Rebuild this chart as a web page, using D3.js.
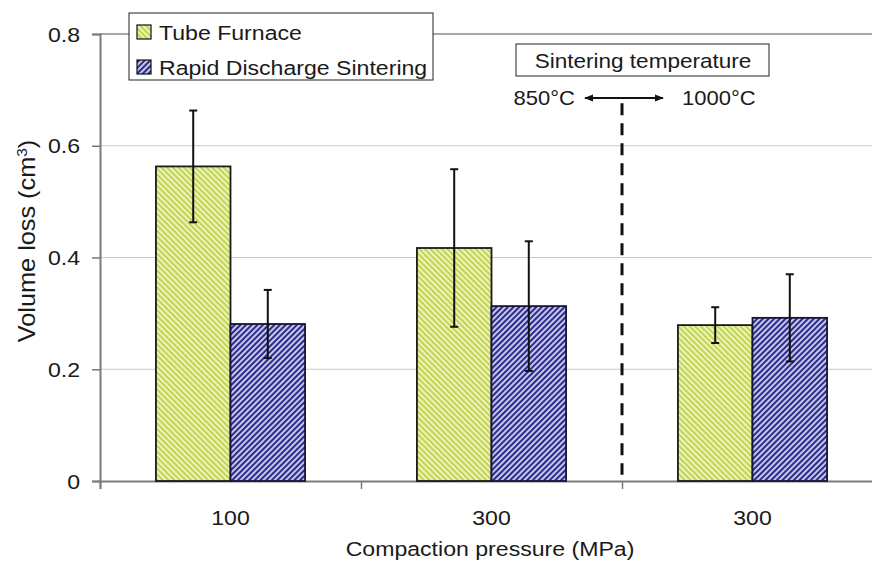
<!DOCTYPE html>
<html>
<head>
<meta charset="utf-8">
<title>Volume loss vs compaction pressure</title>
<script src="https://cdn.jsdelivr.net/npm/d3@7"></script>
<style>
  body { margin: 0; background: #fff; }
  text { font-family: "Liberation Sans", Arial, sans-serif; fill: #1a1a1a; }
</style>
</head>
<body>
<svg id="chart" width="872" height="568"></svg>
<script>
// data
var categories = ["100", "300", "300"];
var seriesNames = ["Tube Furnace", "Rapid Discharge Sintering"];
var tubeFurnace = [0.563, 0.417, 0.279];
var tubeFurnaceErr = [0.100, 0.141, 0.032];
var rapidDischarge = [0.281, 0.313, 0.292];
var rapidDischargeErr = [0.061, 0.116, 0.078];
var yTicks = [0, 0.2, 0.4, 0.6, 0.8];
var yTickLabels = ["0", "0.2", "0.4", "0.6", "0.8"];
var tempLabels = ["850\u00B0C", "1000\u00B0C"];

var svg = d3.select("#chart");
var plotLeft = 100, plotRight = 883, plotTop = 34, plotBottom = 481;
var stretch = 1.1;   // text in the figure is a bit wider than Arial

var x0 = d3.scaleBand().domain(d3.range(categories.length)).range([plotLeft, plotRight]);
var x1 = d3.scaleBand().domain([0, 1]).range([0, x0.bandwidth()]).paddingOuter(0.75);
var y = d3.scaleLinear().domain([0, 0.8]).range([plotBottom, plotTop]);

// hatch patterns
var defs = svg.append("defs");
function hatch(id, bg, fg, angle) {
    var p = defs.append("pattern").attr("id", id)
        .attr("patternUnits", "userSpaceOnUse")
        .attr("width", 4).attr("height", 4)
        .attr("patternTransform", "rotate(" + angle + ")");
    p.append("rect").attr("width", 4).attr("height", 4).attr("fill", bg);
    p.append("rect").attr("width", 2).attr("height", 4).attr("fill", fg);
}
hatch("hatchGreen", "#eef4b6", "#c2d458", -45);
hatch("hatchBlue", "#c6c6ec", "#2c2c8a", 45);
var fills = ["url(#hatchGreen)", "url(#hatchBlue)"];

function label(sel, x, yy, str, size, anchor, rot) {
    return sel.append("text")
        .attr("transform", "translate(" + x + "," + yy + ")" + (rot ? " rotate(" + rot + ")" : "") + " scale(" + stretch + ",1)")
        .attr("text-anchor", anchor || "start")
        .style("font-size", size + "px")
        .text(str);
}

// gridlines
svg.append("g").selectAll("line")
    .data(yTicks.slice(1))
  .enter().append("line")
    .attr("x1", plotLeft).attr("x2", 872)
    .attr("y1", function(d) { return y(d); })
    .attr("y2", function(d) { return y(d); })
    .attr("stroke", function(d) { return d === 0.8 ? "#8a8a8a" : "#c8c8c8"; })
    .attr("stroke-width", function(d) { return d === 0.8 ? 1.5 : 1; });

// axes
var yAxis = d3.axisLeft(y).tickValues(yTicks).tickSize(8).tickFormat("");
var gy = svg.append("g").attr("transform", "translate(" + plotLeft + ",0)").call(yAxis);
gy.select(".domain").attr("stroke", "#7a7a7a").attr("stroke-width", 2);
gy.selectAll(".tick line").attr("stroke", "#7a7a7a").attr("stroke-width", 1.5);
yTicks.forEach(function(t, i) {
    label(svg, 80, y(t) + 7.5, yTickLabels[i], 21, "end");
});

var xAxis = d3.axisBottom(d3.scaleLinear().domain([0, 3]).range([plotLeft, plotRight]))
    .tickValues([0, 1, 2, 3]).tickSize(8).tickFormat("");
var gx = svg.append("g").attr("transform", "translate(0," + plotBottom + ")").call(xAxis);
gx.select(".domain").attr("stroke", "#7a7a7a").attr("stroke-width", 2);
gx.selectAll(".tick line").attr("stroke", "#7a7a7a").attr("stroke-width", 1.5);
categories.forEach(function(c, i) {
    label(svg, x0(i) + x0.bandwidth() / 2, 525, c, 21, "middle");
});

// bars
var groups = svg.append("g").selectAll("g")
    .data(categories.map(function(c, i) {
        return [{s: 0, v: tubeFurnace[i], e: tubeFurnaceErr[i]},
                {s: 1, v: rapidDischarge[i], e: rapidDischargeErr[i]}];
    }))
  .enter().append("g")
    .attr("transform", function(d, i) { return "translate(" + x0(i) + ",0)"; });

groups.selectAll("rect")
    .data(function(d) { return d; })
  .enter().append("rect")
    .attr("x", function(d) { return x1(d.s); })
    .attr("y", function(d) { return y(d.v); })
    .attr("width", x1.bandwidth())
    .attr("height", function(d) { return y(0) - y(d.v); })
    .attr("fill", function(d) { return fills[d.s]; })
    .attr("stroke", function(d) { return d.s ? "#14143c" : "#1a1a1a"; })
    .attr("stroke-width", 1.8);

// error bars
var err = groups.selectAll("g.err")
    .data(function(d) { return d; })
  .enter().append("g").attr("class", "err")
    .attr("stroke", "#111").attr("stroke-width", 2);
err.append("line")
    .attr("x1", function(d) { return x1(d.s) + x1.bandwidth() / 2; })
    .attr("x2", function(d) { return x1(d.s) + x1.bandwidth() / 2; })
    .attr("y1", function(d) { return y(d.v + d.e); })
    .attr("y2", function(d) { return y(d.v - d.e); });
[1, -1].forEach(function(sgn) {
    err.append("line")
        .attr("x1", function(d) { return x1(d.s) + x1.bandwidth() / 2 - 4; })
        .attr("x2", function(d) { return x1(d.s) + x1.bandwidth() / 2 + 4; })
        .attr("y1", function(d) { return y(d.v + sgn * d.e); })
        .attr("y2", function(d) { return y(d.v + sgn * d.e); });
});

// divider between sintering temperatures
var divX = x0(2);
svg.append("line")
    .attr("x1", divX).attr("x2", divX)
    .attr("y1", y(0.676)).attr("y2", y(0.011))
    .attr("stroke", "#111").attr("stroke-width", 3)
    .attr("stroke-dasharray", "12,8");

svg.append("rect")
    .attr("x", divX - 106).attr("y", 44).attr("width", 253).attr("height", 32)
    .attr("fill", "#fff").attr("stroke", "#222").attr("stroke-width", 1);
label(svg, divX + 21, 68, "Sintering temperature", 20.5, "middle");

defs.append("marker").attr("id", "arrow")
    .attr("viewBox", "0 0 10 10").attr("refX", 9).attr("refY", 5)
    .attr("markerWidth", 9).attr("markerHeight", 9).attr("orient", "auto-start-reverse")
    .attr("markerUnits", "userSpaceOnUse")
  .append("path").attr("d", "M0,1 L10,5 L0,9 Z").attr("fill", "#111");
svg.append("line")
    .attr("x1", divX - 37).attr("x2", divX + 41)
    .attr("y1", 98).attr("y2", 98)
    .attr("stroke", "#111").attr("stroke-width", 2)
    .attr("marker-start", "url(#arrow)").attr("marker-end", "url(#arrow)");
label(svg, divX - 47, 105, tempLabels[0], 20, "end");
label(svg, divX + 60, 105, tempLabels[1], 20, "start");

// legend
var lg = svg.append("g");
lg.append("rect").attr("x", 129).attr("y", 13).attr("width", 304).attr("height", 67)
    .attr("fill", "#fff").attr("stroke", "#222").attr("stroke-width", 1);
seriesNames.forEach(function(n, i) {
    var cy = 32 + i * 35;
    lg.append("rect").attr("x", 137).attr("y", cy - 7).attr("width", 14).attr("height", 14)
        .attr("fill", fills[i]).attr("stroke", "#111").attr("stroke-width", 1.2);
    label(lg, 159, cy + 7.5, n, 21, "start");
});

// axis titles
var yt = label(svg, 35, 241, "Volume loss (cm", 23, "middle", -90);
yt.append("tspan").attr("baseline-shift", "super").style("font-size", "14px").text("3");
yt.append("tspan").text(")");
label(svg, 490, 556, "Compaction pressure (MPa)", 21, "middle");
</script>
</body>
</html>
